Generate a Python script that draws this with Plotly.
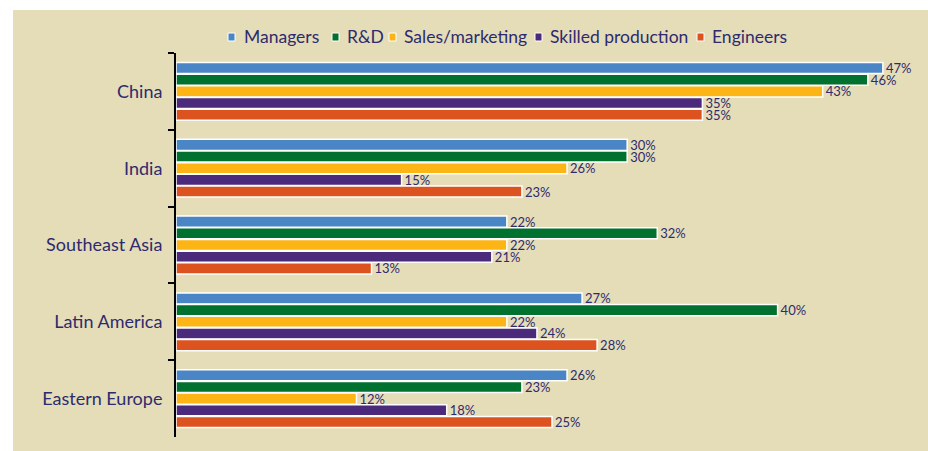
import plotly.graph_objects as go

regions = ["China", "India", "Southeast Asia", "Latin America", "Eastern Europe"]
series_names = ["Managers", "R&D", "Sales/marketing", "Skilled production", "Engineers"]
managers = [47, 30, 22, 27, 26]
rnd = [46, 30, 32, 40, 23]
sales = [43, 26, 22, 22, 12]
skilled = [35, 15, 21, 24, 18]
engineers = [35, 23, 13, 28, 25]
values = [managers, rnd, sales, skilled, engineers]
colors = ["#4a86c5", "#00712f", "#fdb515", "#4b2a7b", "#dc5320"]

TXT = "#2d2b6e"
FONT = "Lato"

fig = go.Figure()
for name, vals, col in zip(series_names, values, colors):
    fig.add_trace(go.Bar(
        y=regions, x=vals, name=name, orientation="h",
        marker=dict(color=col, line=dict(color="white", width=1.5)),
        text=[f"{v}%" for v in vals], textposition="outside",
        constraintext="none",
        textfont=dict(family=FONT, size=13, color=TXT),
        cliponaxis=False, showlegend=False,
    ))

L, T, B = 176, 53, 14
W, H = 928, 451
pw, ph = W - L, H - T - B


def px_x(x):
    return (x - L) / pw


def px_y(y):
    return 1 - (y - T) / ph


shapes = [dict(type="rect", xref="paper", yref="paper", layer="below",
               x0=px_x(13), x1=1.05, y0=-0.1, y1=px_y(10),
               fillcolor="#e5dcb8", line=dict(width=0))]
annotations = []
# custom legend (compact, like the original)
sq_x = [228, 332, 389, 535, 697]
txt_x = [242, 345, 402, 548, 710]
ly = 37
for name, col, sx, tx in zip(series_names, colors, sq_x, txt_x):
    shapes.append(dict(type="rect", xref="paper", yref="paper",
                       x0=px_x(sx), x1=px_x(sx + 7), y0=px_y(ly + 4), y1=px_y(ly - 4),
                       fillcolor=col, line=dict(color="white", width=1)))
    annotations.append(dict(xref="paper", yref="paper", x=px_x(tx), y=px_y(ly),
                            xanchor="left", yanchor="middle", showarrow=False,
                            text=name, font=dict(family=FONT, size=17.5, color=TXT)))

fig.update_layout(
    width=W, height=H,
    margin=dict(l=L, r=0, t=T, b=B, pad=0),
    paper_bgcolor="white", plot_bgcolor="rgba(0,0,0,0)",
    barmode="group", bargap=0.24, bargroupgap=0.05,
    font=dict(family=FONT, color=TXT),
    showlegend=False,
    xaxis=dict(range=[0, 50], visible=False, fixedrange=True),
    yaxis=dict(autorange=False, range=[4.5, -0.5], type="category",
               showline=True, linecolor="black", linewidth=2,
               ticks="outside", tickson="boundaries", ticklen=6, tickwidth=2,
               tickcolor="black", showgrid=False, zeroline=False,
               tickfont=dict(family=FONT, size=18, color=TXT),
               ticklabelstandoff=8, fixedrange=True),
    shapes=shapes,
    annotations=annotations,
)

fig.write_html("out.html", config={"displayModeBar": False},
               post_script="document.body.style.margin='0';document.body.style.overflow='hidden';")
